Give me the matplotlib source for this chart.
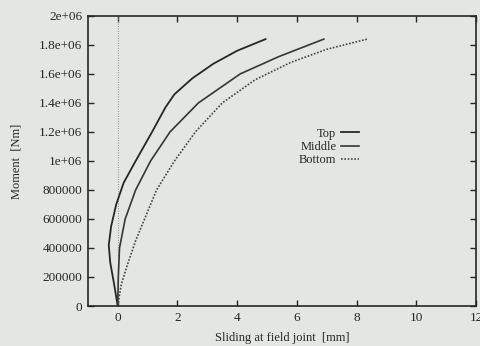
import matplotlib
matplotlib.use('Agg')
import matplotlib.pyplot as plt
from matplotlib.ticker import FuncFormatter

# moment vs. sliding at the field joint, three positions
top_x = [0, -0.12, -0.25, -0.3, -0.22, -0.05, 0.2, 0.6, 1.15, 1.6, 1.9, 2.5, 3.2, 4.0, 4.95]
top_m = [0, 150e3, 300e3, 420e3, 550e3, 700e3, 850e3, 1.0e6, 1.2e6, 1.37e6, 1.46e6,
         1.57e6, 1.67e6, 1.76e6, 1.84e6]

mid_x = [0, 0.02, 0.06, 0.25, 0.6, 1.1, 1.75, 2.7, 4.1, 5.4, 6.9]
mid_m = [0, 200e3, 400e3, 600e3, 800e3, 1.0e6, 1.2e6, 1.4e6, 1.6e6, 1.72e6, 1.84e6]

bot_x = [0, 0.12, 0.35, 0.6, 0.9, 1.3, 1.9, 2.6, 3.5, 4.6, 5.8, 7.0, 8.35]
bot_m = [0, 150e3, 300e3, 450e3, 600e3, 800e3, 1.0e6, 1.2e6, 1.4e6, 1.56e6, 1.68e6,
         1.77e6, 1.84e6]

xticks = [0, 2, 4, 6, 8, 10, 12]
yticks = [0, 200000, 400000, 600000, 800000, 1000000, 1200000,
          1400000, 1600000, 1800000, 2000000]

bg = '#e4e6e3'
ink = '#262626'

plt.rcParams['font.family'] = ['Liberation Serif', 'DejaVu Serif']
plt.rcParams['font.size'] = 9.5
plt.rcParams['text.color'] = ink

fig = plt.figure(figsize=(4.8, 3.46), dpi=100, facecolor=bg)
ax = fig.add_axes([0.183, 0.1156, 0.809, 0.8384], facecolor=bg)

# zero axis
ax.axvline(0, color='#8a8a8a', lw=0.7, ls=(0, (1, 1.5)))

ax.plot(top_x, top_m, color=ink, lw=1.3, label='Top')
ax.plot(mid_x, mid_m, color='#363636', lw=1.2, label='Middle')
ax.plot(bot_x, bot_m, color='#444444', lw=1.2, ls=(0, (1, 1)), label='Bottom')

ax.set_xlim(-1, 12)
ax.set_ylim(0, 2000000)
ax.set_xticks(xticks)
ax.set_yticks(yticks)


def gfmt(v, pos):
    return '%g' % v


ax.yaxis.set_major_formatter(FuncFormatter(gfmt))
ax.xaxis.set_major_formatter(FuncFormatter(gfmt))
ax.tick_params(direction='in', length=4.5, width=1, color=ink, labelcolor=ink,
               top=True, right=True, pad=4)

for s in ax.spines.values():
    s.set_color(ink)
    s.set_linewidth(1.2)

ax.set_xlabel('Sliding at field joint  [mm]', color=ink, fontsize=9, labelpad=6)
ax.set_ylabel('Moment  [Nm]', color=ink, fontsize=9, labelpad=12)

leg = ax.legend(loc='center right', bbox_to_anchor=(0.714, 0.548), frameon=False,
                markerfirst=False, handlelength=1.4, handletextpad=0.4,
                labelspacing=0.1, borderpad=0, fontsize=9)

fig.savefig('out.png', dpi=100, facecolor=bg)
